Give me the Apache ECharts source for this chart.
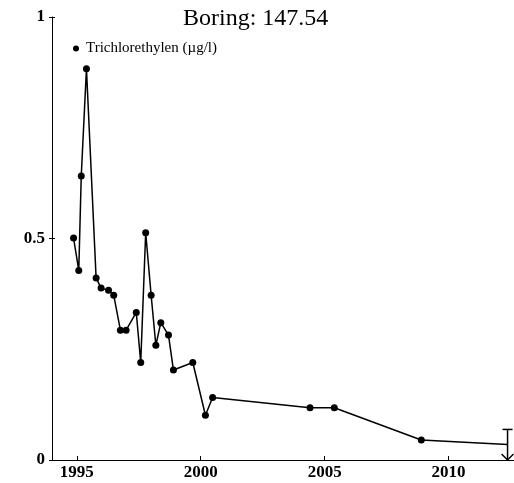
<!DOCTYPE html>
<html>
<head>
<meta charset="utf-8">
<script src="https://cdn.jsdelivr.net/npm/echarts@6/dist/echarts.min.js"></script>
<style>
html,body{margin:0;padding:0;background:#fff;}
#chart{width:514px;height:483px;}
</style>
</head>
<body>
<div id="chart"></div>
<script>
// ---- data ----
const titleText = 'Boring: 147.54';
const seriesName = 'Trichlorethylen (µg/l)';
const years = [1994.87, 1995.08, 1995.18, 1995.39, 1995.78, 1995.98, 1996.28, 1996.49,
  1996.76, 1996.99, 1997.40, 1997.58, 1997.78, 1998.00, 1998.19, 1998.39, 1998.70,
  1998.90, 1999.68, 2000.19, 2000.48, 2004.41, 2005.39, 2008.90, 2012.38];
const tce = [0.501, 0.428, 0.641, 0.883, 0.411, 0.388, 0.383, 0.372,
  0.293, 0.293, 0.333, 0.220, 0.513, 0.372, 0.259, 0.310, 0.282,
  0.203, 0.220, 0.101, 0.141, 0.118, 0.118, 0.045, 0.035];
// last measurement shown without a marker, with a range bar (upper cap, arrow down to 0)
const errYears = [2012.38];
const errLow = [0];
const errHigh = [0.069];
const xTicks = [1995, 2000, 2005, 2010];
const yTicks = [0, 0.5, 1];
const xMin = 1994, xMax = 2012.64;

const lineData = years.map((y, i) => {
  const item = { value: [y, tce[i]] };
  if (i === years.length - 1) item.symbol = 'none';
  return item;
});
const errData = errYears.map((y, i) => [y, errLow[i], errHigh[i]]);

const serif = '"Liberation Serif", "DejaVu Serif", serif';
const chart = echarts.init(document.getElementById('chart'), null, { renderer: 'canvas' });
chart.setOption({
  animation: false,
  backgroundColor: '#fff',
  title: {
    text: titleText,
    left: 178, top: 2,
    textStyle: { fontFamily: serif, fontSize: 24, fontWeight: 'normal', color: '#000' }
  },
  legend: {
    left: 68, top: 36,
    icon: 'circle', itemWidth: 6, itemHeight: 6, itemGap: 4,
    data: [seriesName],
    textStyle: { fontFamily: serif, fontSize: 15, color: '#000', padding: [0, 0, 0, 2] }
  },
  grid: { left: 52, right: 0, top: 17, bottom: 23, containLabel: false },
  xAxis: [{
    type: 'value', min: xMin, max: xMax,
    splitLine: { show: false },
    axisLine: { show: true, lineStyle: { color: '#000', width: 1 } },
    axisTick: { show: true, inside: true, length: 4, customValues: xTicks, lineStyle: { color: '#000' } },
    axisLabel: {
      customValues: xTicks, margin: 4, fontFamily: serif, fontSize: 17, fontWeight: 'bold', color: '#000',
      formatter: v => String(Math.round(v))
    }
  }],
  yAxis: [{
    type: 'value', min: 0, max: 1, interval: 0.5,
    splitLine: { show: false },
    axisLine: { show: true, lineStyle: { color: '#000', width: 1 } },
    axisTick: { show: false },
    axisLabel: { margin: 7, fontFamily: serif, fontSize: 17, fontWeight: 'bold', color: '#000' }
  }, {
    type: 'value', min: 0, max: 1, interval: 0.5, position: 'left', offset: -3,
    splitLine: { show: false },
    axisLine: { show: false },
    axisTick: { show: true, inside: false, length: 6, lineStyle: { color: '#000' } },
    axisLabel: { show: false }
  }],
  series: [{
    name: seriesName,
    type: 'line',
    data: lineData,
    symbol: 'circle', symbolSize: 7,
    itemStyle: { color: '#000' },
    lineStyle: { color: '#000', width: 1.5 },
    clip: false
  }, {
    type: 'custom',
    data: errData,
    clip: false,
    silent: true,
    renderItem: function (params, api) {
      const top = api.coord([api.value(0), api.value(2)]);
      const bot = api.coord([api.value(0), api.value(1)]);
      const x = top[0];
      const style = { stroke: '#000', lineWidth: 1.5, fill: null };
      return {
        type: 'group',
        children: [
          { type: 'line', shape: { x1: x, y1: top[1], x2: x, y2: bot[1] }, style: style },
          { type: 'line', shape: { x1: x - 5, y1: top[1], x2: x + 5, y2: top[1] }, style: style },
          { type: 'polyline', shape: { points: [[x - 6, bot[1] - 6], [x, bot[1]], [x + 6, bot[1] - 6]] }, style: style }
        ]
      };
    }
  }]
});
</script>
</body>
</html>
